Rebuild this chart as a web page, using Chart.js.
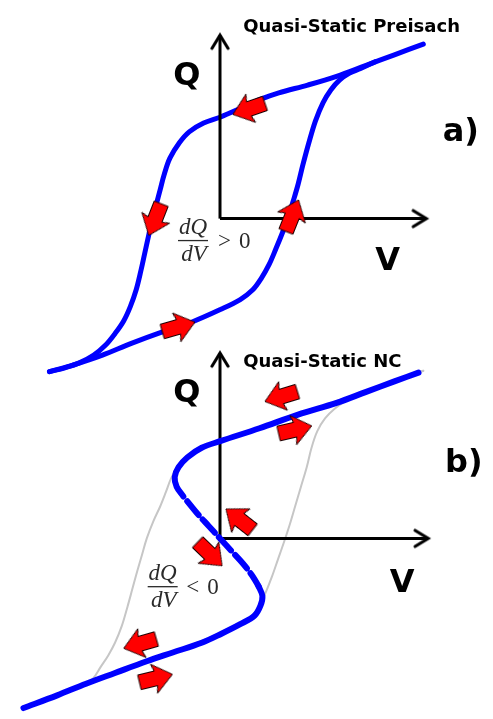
<!DOCTYPE html>
<html>
<head>
<meta charset="utf-8">
<script src="https://cdn.jsdelivr.net/npm/chart.js@4.4.1/dist/chart.umd.min.js"></script>
<style>
  html, body { margin: 0; padding: 0; background: #ffffff; }
  canvas { display: block; }
</style>
</head>
<body>
<canvas id="loops" width="493" height="719"></canvas>
<script>
// ---------- Panel a: quasi-static Preisach loop ----------
// descending branch (sweep from +V to -V)
const preisachDownV = [21.1, 18.1, 15.1, 12.1, 9.1, 6.1, 4.1, 2.1, 0.0, -1.7, -3.2, -4.2, -5.2, -5.8, -6.2, -6.6, -7.0, -7.4, -7.8, -8.2, -8.7, -9.3, -10.0, -10.9, -11.9, -13.1, -14.6, -16.1, -17.7];
const preisachDownQ = [17.9, 16.8, 15.7, 14.6, 13.7, 12.9, 12.2, 11.3, 10.4, 9.8, 8.9, 7.8, 6.2, 4.5, 3.0, 1.5, 0.0, -1.7, -3.5, -5.3, -7.3, -9.0, -10.5, -11.8, -13.0, -14.0, -14.8, -15.3, -15.7];
// ascending branch (sweep from -V to +V)
const preisachUpV = [-17.7, -15.2, -12.2, -9.2, -5.9, -2.9, 0.1, 2.1, 3.4, 4.3, 5.1, 5.8, 6.5, 7.1, 7.6, 8.1, 8.6, 9.2, 9.9, 10.7, 11.5, 12.4, 13.4, 14.6, 16.1];
const preisachUpQ = [-15.7, -15.0, -14.0, -12.8, -11.6, -10.6, -9.3, -8.3, -7.3, -6.1, -4.7, -3.1, -1.4, 0.2, 1.8, 3.5, 5.5, 7.7, 10.0, 11.9, 13.2, 14.2, 14.9, 15.4, 16.1];

// ---------- Panel b: quasi-static negative-capacitance S-curve ----------
const ncUpperV = [20.6, 18.1, 15.1, 12.1, 8.1, 4.1, 0.1, -1.9, -3.4, -4.3, -4.7, -4.5, -3.8];
const ncUpperQ = [17.0, 16.1, 15.0, 13.9, 12.7, 11.3, 10.0, 9.3, 8.3, 7.3, 6.3, 5.3, 4.3];
// unstable (dQ/dV < 0) middle section
const ncMiddleV = [-3.8, -2.4, -1.2, 0.0, 1.2, 2.4, 3.4, 4.0];
const ncMiddleQ = [4.3, 2.6, 1.3, 0.0, -1.3, -2.6, -3.9, -4.9];
const ncLowerV = [4.0, 4.4, 4.2, 3.6, 2.1, 0.1, -1.9, -4.9, -7.6, -10.9, -13.9, -16.9, -20.4];
const ncLowerQ = [-4.9, -5.9, -6.9, -7.9, -8.8, -9.8, -10.7, -11.7, -12.6, -13.8, -14.9, -16.1, -17.4];

// grey reference hysteresis loop behind the S-curve
const refUpV = [-15.2, -10.9, -7.6, -4.9, -2.4, -0.4, 1.6, 3.1, 4.1, 4.8, 5.4, 6.0, 6.6, 7.2, 7.8, 8.4, 9.0, 9.5, 10.1, 10.9, 11.9, 13.1, 14.3, 15.6, 18.1, 21.1];
const refUpQ = [-15.4, -13.8, -12.6, -11.7, -10.7, -9.9, -9.0, -8.1, -6.9, -5.4, -3.9, -2.2, -0.5, 1.3, 3.3, 5.3, 7.3, 9.3, 11.0, 12.3, 13.3, 14.1, 14.7, 15.3, 16.2, 17.2];
const refDownV = [21.1, 8.1, 4.1, 1.1, -1.9, -3.4, -4.4, -5.1, -5.6, -6.2, -6.9, -7.6, -8.1, -8.6, -9.1, -9.6, -10.2, -10.9, -11.6, -12.4, -13.2, -14.2, -15.2, -17.9];
const refDownQ = [17.2, 12.7, 11.3, 10.3, 9.3, 8.4, 7.4, 6.1, 4.8, 3.3, 1.8, 0.0, -1.7, -3.4, -5.2, -7.0, -9.0, -10.7, -12.0, -13.2, -14.4, -15.0, -15.4, -16.4];

// ---------- sweep-direction arrows (centre V, centre Q, heading in degrees) ----------
const arrowsAV = [3.0, -6.75, 7.5, -4.3];
const arrowsAQ = [11.25, -0.1, 0.3, -11.1];
const arrowsADir = [199, 248.6, 68.2, 16];
const arrowsBV = [6.35, 7.8, -8.3, -6.65, 2.0, -1.05];
const arrowsBQ = [14.55, 11.15, -10.8, -14.35, 1.95, -1.6];
const arrowsBDir = [197, 13, 196, 13.6, 142, 316];

// ---------- axis extents (origin -> arrow tip) ----------
const axisAV = [0, 21.4];
const axisAQ = [0, 18.8];
const axisBV = [0, 21.6];
const axisBQ = [0, 19.0];

// ---------- helpers ----------
const pts = (vs, qs) => vs.map((v, i) => ({ x: v, y: qs[i] }));

// fat red arrow pointing along +x, centred in its canvas
function makeBlockArrow() {
  const c = document.createElement('canvas');
  c.width = 48; c.height = 48;
  const g = c.getContext('2d');
  g.translate(24, 24);
  g.beginPath();
  g.moveTo(-17, -7.5);
  g.lineTo(0, -7.5);
  g.lineTo(-2, -15);
  g.lineTo(17, 0);
  g.lineTo(-2, 15);
  g.lineTo(0, 7.5);
  g.lineTo(-17, 7.5);
  g.closePath();
  g.fillStyle = '#ff0000';
  g.fill();
  g.lineWidth = 1;
  g.strokeStyle = '#1a0000';
  g.lineJoin = 'miter';
  g.stroke();
  return c;
}

// open arrow head for the axes, tip at the canvas centre
function makeChevron() {
  const c = document.createElement('canvas');
  c.width = 36; c.height = 36;
  const g = c.getContext('2d');
  g.translate(18, 18);
  g.beginPath();
  g.moveTo(-13, -8);
  g.lineTo(0, 0);
  g.lineTo(-13, 8);
  g.lineWidth = 3.2;
  g.lineCap = 'round';
  g.lineJoin = 'miter';
  g.strokeStyle = '#000000';
  g.stroke();
  return c;
}

const blockArrow = makeBlockArrow();
const chevron = makeChevron();

const BLUE = '#0000ff';
const GREY = '#c6c6c6';

// larger "order" is painted first (further back)
function curve(data, yAxisID, color, width, order, dash) {
  return {
    data, yAxisID, order,
    showLine: true,
    borderColor: color,
    borderWidth: width,
    borderDash: dash || [],
    borderDashOffset: dash ? dash[0] : 0,
    borderCapStyle: 'round',
    borderJoinStyle: 'round',
    tension: 0.35,
    pointRadius: 0,
    fill: false,
    clip: false
  };
}

function axisLine(data, yAxisID, rotation, order) {
  return {
    data, yAxisID, order,
    showLine: true,
    borderColor: '#000000',
    borderWidth: 3,
    borderCapStyle: 'butt',
    tension: 0,
    pointStyle: chevron,
    pointRadius: [0, 6],
    pointRotation: [0, rotation],
    pointBackgroundColor: '#000',
    pointBorderColor: '#000',
    clip: false
  };
}

function arrowSet(vs, qs, dirs, yAxisID) {
  return {
    data: pts(vs, qs), yAxisID, order: 0,
    showLine: false,
    pointStyle: blockArrow,
    pointRadius: 8,
    pointRotation: dirs.map(d => -d),
    clip: false
  };
}

// ---------- text annotations (placed in V/Q units of each panel) ----------
const texts = [
  { t: 'Quasi-Static Preisach', v: 2.4, q: 19.1, ax: 'ya', font: "bold 18px 'DejaVu Sans'", align: 'left' },
  { t: 'Q', v: -3.45, q: 13.7, ax: 'ya', font: "bold 32px 'DejaVu Sans'", align: 'center' },
  { t: 'V', v: 17.4, q: -5.3, ax: 'ya', font: "bold 32px 'DejaVu Sans'", align: 'center' },
  { t: 'a)', v: 25.0, q: 8.0, ax: 'ya', font: "bold 32px 'DejaVu Sans'", align: 'center' },
  { t: 'Quasi-Static NC', v: 2.4, q: 17.6, ax: 'yb', font: "bold 18px 'DejaVu Sans'", align: 'left' },
  { t: 'Q', v: -3.45, q: 14.0, ax: 'yb', font: "bold 32px 'DejaVu Sans'", align: 'center' },
  { t: 'V', v: 18.9, q: -5.5, ax: 'yb', font: "bold 32px 'DejaVu Sans'", align: 'center' },
  { t: 'b)', v: 25.3, q: 6.8, ax: 'yb', font: "bold 32px 'DejaVu Sans'", align: 'center' }
];
const slopes = [
  { v: -2.8, q: -2.2, rel: '>', relV: -0.2, ax: 'ya' },
  { v: -5.95, q: -4.9, rel: '<', relV: -3.5, ax: 'yb' }
];

const annotate = {
  id: 'annotate',
  afterDatasetsDraw(chart) {
    const ctx = chart.ctx;
    const sx = chart.scales.x;
    ctx.save();
    ctx.fillStyle = '#000000';
    ctx.textBaseline = 'alphabetic';
    texts.forEach(l => {
      const sy = chart.scales[l.ax];
      ctx.font = l.font;
      ctx.textAlign = l.align;
      ctx.fillText(l.t, sx.getPixelForValue(l.v), sy.getPixelForValue(l.q));
    });
    // dQ/dV fractions
    ctx.fillStyle = '#2a2a2a';
    ctx.strokeStyle = '#2a2a2a';
    slopes.forEach(s => {
      const sy = chart.scales[s.ax];
      const cx = sx.getPixelForValue(s.v);
      const by = sy.getPixelForValue(s.q);
      ctx.font = "italic 23px 'Liberation Serif'";
      ctx.textAlign = 'center';
      ctx.fillText('dQ', cx, by - 6);
      ctx.fillText('dV', cx + 1, by + 21);
      ctx.lineWidth = 1.3;
      ctx.beginPath();
      ctx.moveTo(cx - 15, by + 0.5);
      ctx.lineTo(cx + 15, by + 0.5);
      ctx.stroke();
      ctx.font = "23px 'Liberation Serif'";
      ctx.textAlign = 'left';
      const rx = sx.getPixelForValue(s.relV);
      ctx.fillText(s.rel, rx, by + 8);
      ctx.fillText('0', rx + 21, by + 8);
    });
    ctx.restore();
  }
};

new Chart(document.getElementById('loops'), {
  type: 'scatter',
  data: {
    datasets: [
      // panel a: axes sit over the loop
      axisLine(pts(axisAV, [0, 0]), 'ya', 0, 1),
      axisLine(pts([0, 0], axisAQ), 'ya', -90, 1),
      curve(pts(preisachDownV, preisachDownQ), 'ya', BLUE, 5, 2),
      curve(pts(preisachUpV, preisachUpQ), 'ya', BLUE, 5, 2),
      arrowSet(arrowsAV, arrowsAQ, arrowsADir, 'ya'),
      // panel b: grey loop at the back, S-curve over the axes
      curve(pts(refUpV, refUpQ), 'yb', GREY, 2, 5),
      curve(pts(refDownV, refDownQ), 'yb', GREY, 2, 5),
      axisLine(pts(axisBV, [0, 0]), 'yb', 0, 4),
      axisLine(pts([0, 0], axisBQ), 'yb', -90, 4),
      curve(pts(ncUpperV, ncUpperQ), 'yb', BLUE, 6, 3),
      curve(pts(ncMiddleV, ncMiddleQ), 'yb', BLUE, 6, 3, [18, 6]),
      curve(pts(ncLowerV, ncLowerQ), 'yb', BLUE, 6, 3),
      arrowSet(arrowsBV, arrowsBQ, arrowsBDir, 'yb')
    ]
  },
  options: {
    responsive: false,
    animation: false,
    devicePixelRatio: 1,
    layout: { padding: 0 },
    events: [],
    scales: {
      x: { type: 'linear', display: false, min: -21.9, max: 27.4 },
      ya: { type: 'linear', display: false, min: -50.4, max: 21.5 },
      yb: { type: 'linear', display: false, min: -17.6, max: 54.3 }
    },
    plugins: {
      legend: { display: false },
      tooltip: { enabled: false },
      title: { display: false }
    }
  },
  plugins: [annotate]
});
</script>
</body>
</html>
